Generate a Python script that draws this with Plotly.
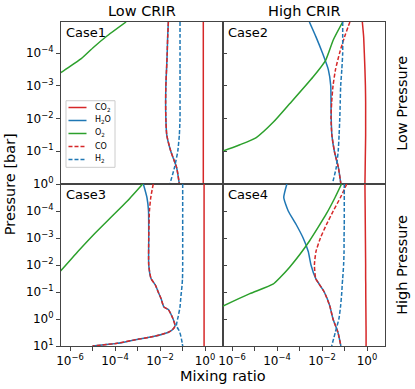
import plotly.graph_objects as go
from plotly.subplots import make_subplots

# pressure levels [bar] for each case
P_CASE1 = [1.12e-5, 3.2e-5, 1e-4, 3.2e-4, 1e-3, 3.2e-3, 1e-2, 3.2e-2, 0.1, 0.32, 1.0]
P_CASE2 = [1.12e-5, 3.2e-5, 1e-4, 3.2e-4, 1e-3, 3.2e-3, 1e-2, 3.2e-2, 0.1, 0.32, 1.0]
P_CASE3 = [1e-5, 3.16e-5, 1e-4, 1e-3, 1e-2, 0.0316, 0.0562, 0.1, 0.178, 0.355, 0.447,
           0.794, 1.78, 2.51, 3.16, 4.47, 5.89, 7.94, 10.0]
P_CASE4 = [1e-5, 3.16e-5, 1e-4, 3.16e-4, 1e-3, 3.16e-3, 0.01, 0.0316, 0.0501, 0.1, 0.316,
           1.0, 3.16, 10.0]

# O2 is sampled on its own levels (steep profiles)
P_O2_1 = [1.12e-5, 3.16e-5, 6.6e-5, 1.48e-4, 3.89e-4, 1e-3]
P_O2_2 = [1.12e-5, 3.98e-5, 1.66e-4, 5.37e-4, 3.55e-3, 0.0126, 0.038, 0.063, 0.0977, 0.158]
P_O2_3 = [1e-5, 4.17e-5, 1.78e-4, 7.08e-4, 3.16e-3, 0.0158, 0.0398]
P_O2_4 = [1e-5, 3.16e-5, 1.29e-4, 3.98e-4, 1.26e-3, 3.98e-3, 0.012, 0.0282, 0.0513, 0.115,
          0.331, 1.0]

# mixing ratios, Case1 (low CRIR, low pressure)
CO2_1 = [0.84, 0.84, 0.84, 0.84, 0.84, 0.84, 0.84, 0.84, 0.84, 0.84, 0.84]
H2O_1 = [0.0234, 0.0219, 0.0209, 0.0195, 0.0182, 0.0178, 0.0182, 0.0200, 0.0302, 0.0550, 0.0724]
O2_1 = [3.1e-4, 4.0e-5, 1.12e-5, 3.16e-6, 4.0e-7, 6.3e-8]
CO_1 = [0.0236, 0.0220, 0.0209, 0.0195, 0.0182, 0.0178, 0.0182, 0.0200, 0.0302, 0.0550, 0.0724]
H2_1 = [0.0776, 0.0776, 0.0776, 0.0776, 0.0776, 0.0776, 0.0776, 0.0724, 0.0617, 0.0437, 0.0275]

# Case2 (high CRIR, low pressure)
CO2_2 = [0.62, 0.71, 0.76, 0.81, 0.85, 0.87, 0.87, 0.87, 0.85, 0.83, 0.81]
H2O_2 = [2.75e-3, 5.4e-3, 0.0105, 0.0191, 0.0245, 0.0251, 0.0257, 0.0275, 0.0355, 0.0537, 0.0692]
O2_2 = [0.0832, 0.0316, 0.0145, 3.98e-3, 3.63e-4, 7.1e-5, 1.2e-5, 2.24e-6, 3.98e-7, 5e-8]
CO_2 = [0.174, 0.100, 0.0603, 0.0398, 0.0309, 0.0269, 0.0251, 0.0275, 0.0355, 0.0537, 0.0692]
H2_2 = [0.0832, 0.0832, 0.0832, 0.0759, 0.0676, 0.0646, 0.0617, 0.0575, 0.0525, 0.0427, 0.0288]

# Case3 (low CRIR, high pressure)
CO2_3 = [0.91, 0.91, 0.91, 0.91, 0.91, 0.91, 0.91, 0.91, 0.91, 0.91, 0.91, 0.91, 0.91, 0.91,
         0.91, 0.91, 0.91, 0.91, 0.91]
H2O_3 = [1.82e-3, 2.63e-3, 3.09e-3, 3.16e-3, 3.16e-3, 3.98e-3, 6.31e-3, 8.3e-3, 0.0112, 0.0148,
         0.0234, 0.0339, 0.0468, 0.0355, 0.0224, 5.0e-3, 7.9e-4, 1.26e-4, 1.0e-5]
O2_3 = [1.7e-3, 3.63e-4, 6.3e-5, 1.2e-5, 2.24e-6, 3.98e-7, 1.26e-7]
CO_3 = [5.0e-3, 3.89e-3, 3.39e-3, 3.16e-3, 3.16e-3, 3.98e-3, 6.31e-3, 8.3e-3, 0.0112, 0.0148,
        0.0234, 0.0339, 0.0468, 0.0355, 0.0224, 5.0e-3, 7.9e-4, 1.26e-4, 1.0e-5]
H2_3 = [0.102, 0.102, 0.102, 0.102, 0.102, 0.100, 0.0955, 0.0891, 0.0832, 0.0776, 0.0741,
        0.0646, 0.0537, 0.0676, 0.0759, 0.0851, 0.0912, 0.0977, 0.102]

# Case4 (high CRIR, high pressure)
CO2_4 = [0.81, 0.82, 0.83, 0.84, 0.85, 0.86, 0.87, 0.87, 0.88, 0.88, 0.89, 0.90, 0.91, 0.91]
H2O_4 = [2.75e-4, 2.0e-4, 3.16e-4, 7.1e-4, 1.45e-3, 2.45e-3, 3.24e-3, 5.25e-3, 7.4e-3, 0.0126,
         0.0219, 0.0309, 0.0513, 0.0692]
O2_4 = [0.0741, 0.038, 0.0155, 6.8e-3, 2.82e-3, 1.05e-3, 3.63e-4, 1.41e-4, 6.6e-5, 6.2e-6,
        3.98e-7, 2.5e-8]
CO_4 = [0.126, 0.066, 0.0316, 0.0158, 8.5e-3, 5.4e-3, 4.6e-3, 5.25e-3, 7.4e-3, 0.0126, 0.0219,
        0.0309, 0.0513, 0.0692]
H2_4 = [0.0977, 0.0977, 0.0977, 0.0977, 0.0955, 0.0955, 0.0912, 0.0832, 0.0794, 0.0759, 0.0676,
        0.0562, 0.0389, 0.0269]

CASES = ['Case1', 'Case2', 'Case3', 'Case4']
COL_TITLES = ['Low CRIR', 'High CRIR']
ROW_TITLES = ['Low Pressure', 'High Pressure']
SPECIES = ['CO<sub>2</sub>', 'H<sub>2</sub>O', 'O<sub>2</sub>', 'CO', 'H<sub>2</sub>']
X_TICKS = [1e-6, 1e-5, 1e-4, 1e-3, 1e-2, 1e-1, 1e0]
X_LABELS = ['10<sup>\u22126</sup>', '', '10<sup>\u22124</sup>', '', '10<sup>\u22122</sup>', '',
            '10<sup>0</sup>']
Y_TICKS_TOP = [1e-4, 1e-3, 1e-2, 1e-1, 1e0]
Y_LABELS_TOP = ['10<sup>\u22124</sup>', '10<sup>\u22123</sup>', '10<sup>\u22122</sup>',
                '10<sup>\u22121</sup>', '10<sup>0</sup>']
Y_TICKS_BOT = [1e-4, 1e-3, 1e-2, 1e-1, 1e0, 1e1]
Y_LABELS_BOT = ['10<sup>\u22124</sup>', '10<sup>\u22123</sup>', '10<sup>\u22122</sup>',
                '10<sup>\u22121</sup>', '10<sup>0</sup>', '10<sup>1</sup>']

RED, BLUE, GREEN = '#d62728', '#1f77b4', '#2ca02c'
COLORS = [RED, BLUE, GREEN, RED, BLUE]
DASHES = ['solid', 'solid', 'solid', '4px,2px', '4px,2px']
FONT = 'DejaVu Sans'

panels = [
    (1, 1, P_CASE1, P_O2_1, CO2_1, H2O_1, O2_1, CO_1, H2_1),
    (1, 2, P_CASE2, P_O2_2, CO2_2, H2O_2, O2_2, CO_2, H2_2),
    (2, 1, P_CASE3, P_O2_3, CO2_3, H2O_3, O2_3, CO_3, H2_3),
    (2, 2, P_CASE4, P_O2_4, CO2_4, H2O_4, O2_4, CO_4, H2_4),
]

fig = make_subplots(rows=2, cols=2, horizontal_spacing=0, vertical_spacing=0)

for r, c, p, p_o2, co2, h2o, o2, co, h2 in panels:
    for k, (vals, pres) in enumerate([(co2, p), (h2o, p), (o2, p_o2), (co, p), (h2, p)]):
        fig.add_trace(go.Scatter(
            x=vals, y=pres, mode='lines', name=SPECIES[k], showlegend=False,
            line=dict(color=COLORS[k], width=1.5, dash=DASHES[k], shape='spline', smoothing=0.5),
        ), row=r, col=c)

axis_style = dict(type='log', showgrid=False, zeroline=False, showline=True,
                  linecolor='#444', linewidth=1, mirror=True, ticklen=4,
                  tickcolor='#444', tickfont=dict(family=FONT, size=12, color='black'))

for r in (1, 2):
    for c in (1, 2):
        fig.update_xaxes(axis_style, range=[-6.4, 0.8], tickvals=X_TICKS, ticktext=X_LABELS,
                         ticks='outside' if r == 2 else '', showticklabels=(r == 2),
                         row=r, col=c)
        if r == 1:
            yr, tv, tt = [0, -4.95], Y_TICKS_TOP, Y_LABELS_TOP
        else:
            yr, tv, tt = [1, -5], Y_TICKS_BOT, Y_LABELS_BOT
        fig.update_yaxes(axis_style, range=yr, tickvals=tv, ticktext=tt,
                         ticks='outside' if c == 1 else 'inside', showticklabels=(c == 1),
                         row=r, col=c)

annotations = []
for i, name in enumerate(CASES):
    ax = '' if i == 0 else str(i + 1)
    annotations.append(dict(text=name, x=0.02, y=0.995, xref=f'x{ax} domain', yref=f'y{ax} domain',
                            xanchor='left', yanchor='top', showarrow=False,
                            font=dict(family=FONT, size=13, color='black')))
for j, t in enumerate(COL_TITLES):
    annotations.append(dict(text=t, x=0.25 + 0.5 * j, y=1, xref='paper', yref='paper',
                            xanchor='center', yanchor='bottom', yshift=1, showarrow=False,
                            font=dict(family=FONT, size=14.5, color='black')))
for j, t in enumerate(ROW_TITLES):
    annotations.append(dict(text=t, x=1.052, y=0.75 - 0.5 * j, xref='paper', yref='paper',
                            xanchor='center', yanchor='middle', textangle=-90, showarrow=False,
                            font=dict(family=FONT, size=14.5, color='black')))
annotations.append(dict(text='Pressure [bar]', x=-0.157, y=0.5, xref='paper', yref='paper',
                        xanchor='center', yanchor='middle', textangle=-90, showarrow=False,
                        font=dict(family=FONT, size=14.5, color='black')))
annotations.append(dict(text='Mixing ratio', x=0.5, y=0, xref='paper', yref='paper',
                        xanchor='center', yanchor='top', yshift=-20, showarrow=False,
                        font=dict(family=FONT, size=14.5, color='black')))

# compact legend box drawn in the Case1 panel (paper coordinates)
shapes = [dict(type='rect', xref='paper', yref='paper', x0=0.0154, x1=0.1667, y0=0.5515, y1=0.757,
               line=dict(color='#cccccc', width=1), fillcolor='rgba(255,255,255,0.8)', layer='above')]
for k, name in enumerate(SPECIES):
    yk = 0.7361 - 0.0401 * k
    shapes.append(dict(type='line', xref='paper', yref='paper', x0=0.0231, x1=0.0787, y0=yk, y1=yk,
                       line=dict(color=COLORS[k], width=1.5, dash=DASHES[k]), layer='above'))
    annotations.append(dict(text=name, x=0.0988, y=yk, xref='paper', yref='paper',
                            xanchor='left', yanchor='middle', showarrow=False,
                            font=dict(family=FONT, size=8, color='black')))

fig.update_layout(
    width=415, height=389,
    margin=dict(l=61, r=30, t=22, b=43),
    paper_bgcolor='white', plot_bgcolor='white',
    annotations=annotations, shapes=shapes,
    showlegend=False,
)

fig.write_html('out.html', config={'displayModeBar': False},
               post_script="document.body.style.margin='0';"
                           "document.body.style.overflow='hidden';")
